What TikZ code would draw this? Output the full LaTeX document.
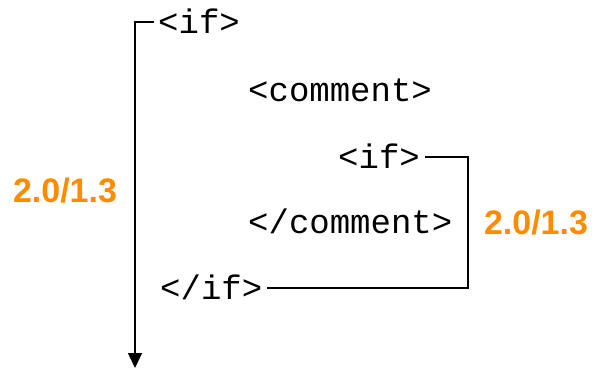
\documentclass[tikz,border=0pt]{standalone}
\usepackage{fontspec}
\setmainfont{Liberation Sans}
\newfontfamily\codefont{Liberation Mono}
\usetikzlibrary{arrows.meta}
\definecolor{verorange}{HTML}{FF8C00}
\begin{document}
\begin{tikzpicture}[x=1pt,y=-1pt,
  tag/.style={inner sep=0pt,anchor=west,font=\codefont\fontsize{34}{34}\selectfont,text height=18pt,text depth=4pt},
  ver/.style={inner sep=0pt,text=verorange,font=\fontsize{34}{34}\selectfont\bfseries},
  link/.style={line width=1.5pt}]
\useasboundingbox (0,0) rectangle (592,370);
% nested tags
\node[tag] (ifa) at (158,26) {<if>};
\node[tag] (cma) at (248,94) {<comment>};
\node[tag] (ifb) at (338,161) {<if>};
\node[tag] (cmb) at (248,226) {</comment>};
\node[tag] (ifc) at (160,292) {</if>};
% version labels
\node[ver] (va) at (65,191) {2.0/1.3};
\node[ver] (vb) at (536,223) {2.0/1.3};
% outer flow arrow
\coordinate (tail) at (135,368);
\draw[link,-{Triangle[width=14pt,length=15pt]}] ([xshift=-4pt,yshift=4pt]ifa.west) -| (tail);
% inner bracket
\draw[link] ([xshift=5pt,yshift=4pt]ifb.east) -- ++(43,0) |- ([xshift=5pt,yshift=4pt]ifc.east);
\end{tikzpicture}
\end{document}
